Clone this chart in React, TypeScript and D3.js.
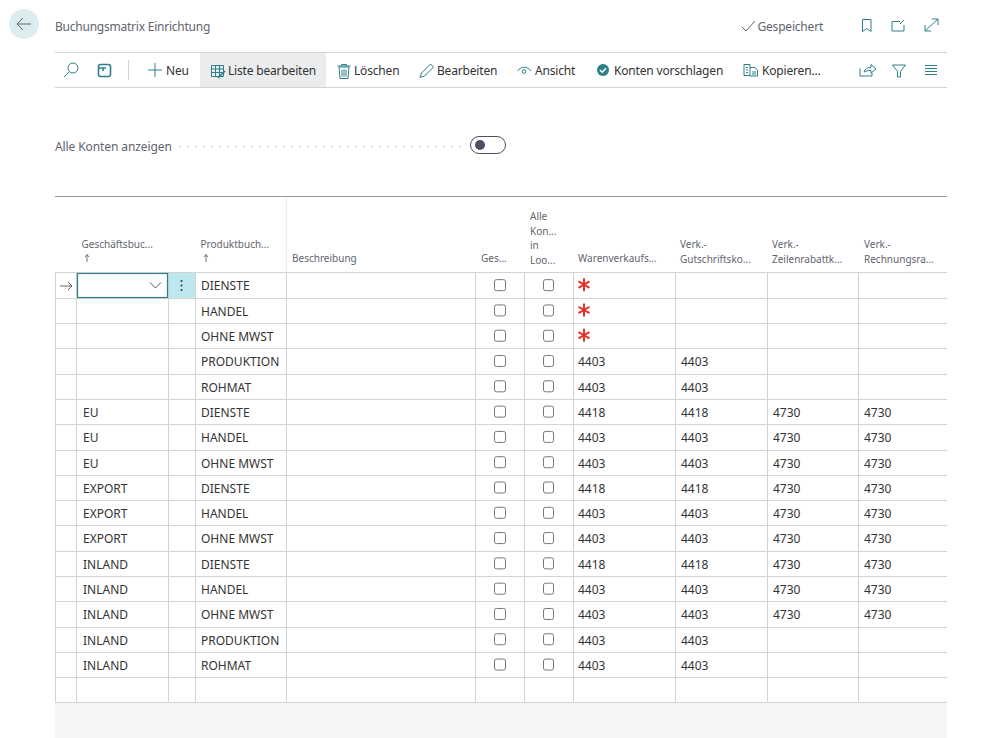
import React from 'react';
import * as d3 from 'd3';

const businessGroups = ['', '', '', '', '', 'EU', 'EU', 'EU', 'EXPORT', 'EXPORT', 'EXPORT', 'INLAND', 'INLAND', 'INLAND', 'INLAND', 'INLAND', ''];
const productGroups = ['DIENSTE', 'HANDEL', 'OHNE MWST', 'PRODUKTION', 'ROHMAT', 'DIENSTE', 'HANDEL', 'OHNE MWST', 'DIENSTE', 'HANDEL', 'OHNE MWST', 'DIENSTE', 'HANDEL', 'OHNE MWST', 'PRODUKTION', 'ROHMAT', ''];
// '*' is the red "required" marker
const salesAccounts = ['*', '*', '*', '4403', '4403', '4418', '4403', '4403', '4418', '4403', '4403', '4418', '4403', '4403', '4403', '4403', ''];
const creditAccounts = ['', '', '', '4403', '4403', '4418', '4403', '4403', '4418', '4403', '4403', '4418', '4403', '4403', '4403', '4403', ''];
const lineDiscounts = ['', '', '', '', '', '4730', '4730', '4730', '4730', '4730', '4730', '4730', '4730', '4730', '', '', ''];
const invoiceDiscounts = ['', '', '', '', '', '4730', '4730', '4730', '4730', '4730', '4730', '4730', '4730', '4730', '', '', ''];

const columnEdges = [55.5, 76.5, 168.5, 195.5, 286.5, 475.5, 524.5, 573.5, 675.5, 767.5, 858.5];
const FONT = '"Noto Sans", sans-serif';
const TEAL = '#2f7f8a';
const INK = '#333333';
const MUTED = '#5f6470';
const GRID = '#d3d3d6';

const rowIndex = d3.range(productGroups.length);
const y = d3.scaleBand<number>().domain(rowIndex).range([272.5, 702.5]);
const rowMid = (i: number) => (y(i) as number) + y.bandwidth() / 2;

const Label = ({ x, y: ty, size = 12, fill = INK, spacing = 0, children }: any) => (
  <text x={x} y={ty} fontSize={size} fill={fill} letterSpacing={spacing}>{children}</text>
);

const Toolbar = () => {
  const labels: [number, string][] = [
    [166, 'Neu'], [228, 'Liste bearbeiten'], [354, 'Löschen'], [437, 'Bearbeiten'],
    [535, 'Ansicht'], [614, 'Konten vorschlagen'], [762, 'Kopieren...'],
  ];
  return (
    <g>
      <rect x={200} y={53} width={126} height={34} fill="#ebecee" />
      <line x1={55} x2={947} y1={52.5} y2={52.5} stroke={GRID} />
      <line x1={55} x2={947} y1={87.5} y2={87.5} stroke={GRID} />
      <line x1={128.5} x2={128.5} y1={60} y2={80} stroke={GRID} />
      {labels.map(([x, t]) => <Label key={t} x={x} y={75} spacing={-0.18}>{t}</Label>)}
      <g fill="none" stroke={TEAL} strokeWidth={1}>
        {/* search */}
        <circle cx={73} cy={68} r={5} />
        <path d="M69 72l-5 5" />
        {/* layout */}
        <rect x={98.5} y={64.5} width={12} height={12} rx={2} strokeWidth={1.6} />
        <path d="M99 68h7M103 68v3" strokeWidth={1.6} />
        {/* plus */}
        <path d="M155 63v14M148 70h14" />
        {/* edit list */}
        <path d="M211.5 65.500h12v11h-12zM211.5 69h12M211.5 72.5h12M215.5 65.5v11M219.5 65.5v11" />
        <path d="M218 78l7-7" strokeWidth={1.6} />
        {/* trash */}
        <path d="M339 67h10l-1 11.5h-8zM337.5 66h13M341.5 66v-1.5h5V66M342 69.5v7M344 69.5v7M346 69.5v7" />
        {/* pencil */}
        <path d="M420 77.5l1.5-4.5 9-9 3 3-9 9z" />
        {/* eye */}
        <path d="M517.5 71c3.500-5 10-5 13.500 0" />
        <circle cx={524} cy={71.5} r={1.8} />
        {/* copy */}
        <path d="M744 64.5h6v11h-6zM750 67.5h5l2.500 3v5.500h-8M746 67.5h2M746 70h2M746 72.5h2M752 72h4M752 74h4" />
        {/* share, filter, list */}
        <path d="M860 68.500v7.500h12v-3M864 72c1-3 3-4.500 7-4.500v-3l5 4.500-5 4v-2.500c-3 0-5 .5-7 1.500z" />
        <path d="M892.5 65h13l-5 6.500v5.500h-3v-5.500z" />
        <path d="M925 65.500h12M925 68.500h12M925 71.500h12M925 74.500h12" />
      </g>
      <circle cx={603} cy={70} r={6} fill={TEAL} />
      <path d="M600 70l2.200 2.200 3.800-4" fill="none" stroke="#fff" strokeWidth={1.4} />
    </g>
  );
};

const Header = () => (
  <g>
    <circle cx={24} cy={24} r={15} fill="#dcedee" />
    <path d="M31 24H17.500M23 18l-6 6 6 6" fill="none" stroke="#5d6470" strokeWidth={1} />
    <Label x={55} y={31} fill={MUTED} spacing={-0.23}>Buchungsmatrix Einrichtung</Label>
    <path d="M742 27l4 4 9-10" fill="none" stroke={MUTED} />
    <Label x={757.5} y={31} fill={MUTED} spacing={-0.2}>Gespeichert</Label>
    <g fill="none" stroke={TEAL}>
      <path d="M862.500 19.500h8.500v12l-4.250-3-4.250 3z" />
      <path d="M892 21.500h8M892 21.500v9.500h12v-6M900 24l4-4" />
      <path d="M925 31l13-12M932 19h6v6M925 25v6h6" />
    </g>
  </g>
);

const ToggleRow = () => (
  <g>
    <Label x={55} y={151} fill={MUTED} spacing={-0.1}>Alle Konten anzeigen</Label>
    {d3.range(180, 462, 8).map(x => <circle key={x} cx={x} cy={146.5} r={0.8} fill="#bdbdbd" />)}
    <rect x={470.5} y={136.5} width={35} height={17} rx={8.5} fill="#fff" stroke="#4b5163" />
    <circle cx={480} cy={145} r={5} fill="#4b5163" />
  </g>
);

const ColumnHeads = () => {
  const heads: [number, number, string[]][] = [
    [81.5, 248, ['Geschäftsbuc...']],
    [200.5, 248, ['Produktbuch...']],
    [292, 262, ['Beschreibung']],
    [481, 262, ['Ges...']],
    [530, 220, ['Alle', 'Kon...', 'in', 'Loo...']],
    [578, 262, ['Warenverkaufs...']],
    [680, 248, ['Verk.-', 'Gutschriftsko...']],
    [772, 248, ['Verk.-', 'Zeilenrabattk...']],
    [864, 248, ['Verk.-', 'Rechnungsra...']],
  ];
  return (
    <g>
      {heads.flatMap(([x, top, lines]) => lines.map((t, i) => (
        <Label key={x + t} x={x} y={top + i * 14.7} size={10} fill={MUTED}>{t}</Label>
      )))}
      {[87, 206].map(x => (
        <path key={x} d={`M${x} 262v-7M${x - 2} 257l2-2.500 2 2.500`} fill="none" stroke={MUTED} strokeWidth={0.9} />
      ))}
    </g>
  );
};

const Asterisk = ({ cx, cy }: { cx: number; cy: number }) => (
  <path
    d={`M${cx} ${cy - 6.5}v13M${cx - 5.5} ${cy - 3.2}l11 6.4M${cx + 5.5} ${cy - 3.2}l-11 6.4`}
    stroke="#e0352b"
    strokeWidth={2}
    fill="none"
  />
);

const Grid = () => {
  const textColumns: [number, string[]][] = [
    [83, businessGroups], [201, productGroups], [578, salesAccounts],
    [681, creditAccounts], [773, lineDiscounts], [864, invoiceDiscounts],
  ];
  return (
    <g>
      <line x1={55} x2={947} y1={196.5} y2={196.5} stroke="#999" />
      <line x1={286.5} x2={286.5} y1={197} y2={272} stroke="#ececee" />
      <line x1={55} x2={947} y1={272.5} y2={272.5} stroke={GRID} />
      {rowIndex.map(i => {
        const lineY = Math.round((y(i) as number) + y.bandwidth() - 0.01) + 0.5;
        return <line key={i} x1={55} x2={947} y1={lineY} y2={lineY} stroke={GRID} />;
      })}
      {columnEdges.map(x => <line key={x} x1={x} x2={x} y1={272.5} y2={702.5} stroke={GRID} />)}

      {/* active row */}
      <path d="M60 286h12M68 282l4 4-4 4" fill="none" stroke="#555" strokeWidth={0.9} />
      <rect x={77.5} y={273.5} width={90} height={24} fill="#fff" stroke={TEAL} strokeWidth={1.2} />
      <path d="M150 282.500l5.500 5.500 5.500-5.500" fill="none" stroke="#555" />
      <rect x={169} y={273} width={26} height={25} fill="#bde8ee" />
      {[281, 285.5, 290].map(cy => <circle key={cy} cx={181.5} cy={cy} r={1} fill="#333" />)}

      {rowIndex.slice(0, -1).map(i => (
        <g key={i}>
          <rect x={494.5} y={rowMid(i) - 5.5} width={11} height={11} rx={2} fill="#fff" stroke="#777" />
          <rect x={543.5} y={rowMid(i) - 5.5} width={10} height={11} rx={2} fill="#fff" stroke="#777" />
        </g>
      ))}
      {textColumns.map(([x, values]) => values.map((v, i) => (
        v === '*'
          ? <Asterisk key={x + '-' + i} cx={584} cy={rowMid(i) - 0.5} />
          : <Label key={x + '-' + i} x={x} y={rowMid(i) + 5.3}>{v}</Label>
      )))}
    </g>
  );
};

export default function App() {
  return (
    <svg
      width={994}
      height={738}
      viewBox="0 0 994 738"
      fontFamily={FONT}
      style={{ position: 'fixed', left: 0, top: 0, display: 'block', background: '#fff' }}
    >
      <rect x={55} y={703} width={892} height={35} fill="#f5f6f7" />
      <Header />
      <Toolbar />
      <ToggleRow />
      <ColumnHeads />
      <Grid />
    </svg>
  );
}
